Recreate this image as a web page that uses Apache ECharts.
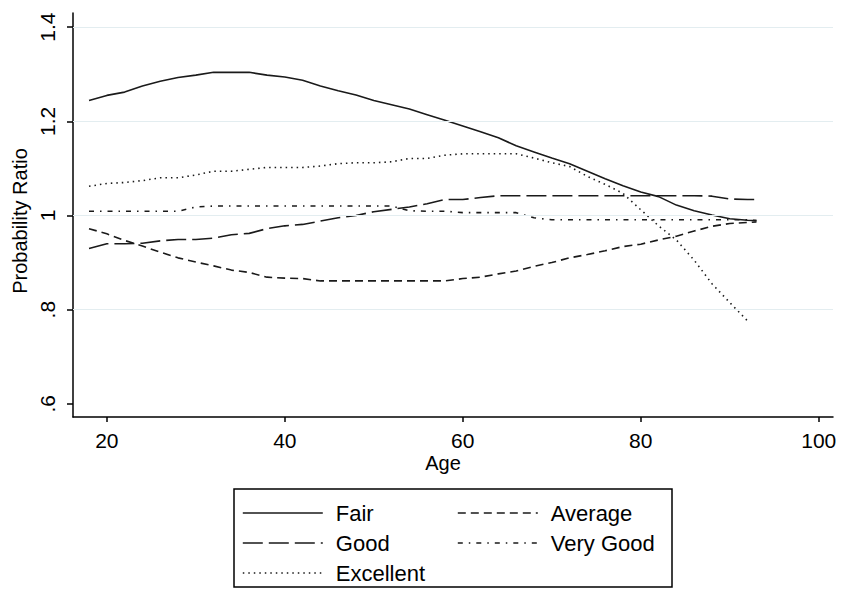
<!DOCTYPE html>
<html><head><meta charset="utf-8">
<script src="https://cdn.jsdelivr.net/npm/echarts@6/dist/echarts.min.js"></script>
<style>html,body{margin:0;padding:0;background:#fff}#c{width:842px;height:592px}</style>
</head><body><div id="c"></div>
<script>
// ---- data ----
const ages = [18,20,22,24,26,28,30,32,34,36,38,40,42,44,46,48,50,52,54,56,58,60,62,64,66,68,70,72,74,76,78,80,82,84,86,88,90,92,93];
const fair = [1.244,1.255,1.262,1.275,1.285,1.293,1.298,1.304,1.304,1.304,1.298,1.294,1.287,1.275,1.265,1.256,1.244,1.235,1.226,1.214,1.202,1.190,1.178,1.165,1.148,1.135,1.122,1.110,1.094,1.078,1.063,1.050,1.040,1.022,1.010,1.001,0.993,0.990,0.989];
const average = [0.972,0.961,0.947,0.935,0.922,0.910,0.901,0.893,0.884,0.879,0.869,0.867,0.866,0.861,0.861,0.861,0.861,0.861,0.861,0.861,0.861,0.866,0.869,0.876,0.882,0.892,0.900,0.910,0.917,0.925,0.934,0.939,0.948,0.956,0.967,0.977,0.983,0.985,0.986];
const good = [0.930,0.940,0.940,0.941,0.946,0.949,0.949,0.952,0.959,0.962,0.972,0.978,0.981,0.988,0.995,1.000,1.008,1.013,1.018,1.025,1.034,1.034,1.038,1.042,1.042,1.042,1.042,1.042,1.042,1.042,1.042,1.042,1.042,1.042,1.042,1.041,1.035,1.034,1.034];
const veryGood = [1.009,1.009,1.009,1.009,1.009,1.009,1.018,1.020,1.020,1.020,1.020,1.020,1.020,1.020,1.020,1.020,1.020,1.020,1.010,1.009,1.009,1.006,1.006,1.006,1.006,0.995,0.991,0.991,0.991,0.991,0.991,0.991,0.991,0.991,0.991,0.991,0.991,0.991,0.989];
const excellent = [1.062,1.068,1.070,1.074,1.080,1.080,1.086,1.094,1.094,1.098,1.102,1.102,1.102,1.105,1.110,1.112,1.112,1.114,1.121,1.121,1.128,1.131,1.131,1.131,1.131,1.122,1.112,1.104,1.083,1.066,1.047,1.012,0.978,0.948,0.905,0.855,0.815,0.776,null];
const seriesNames = ['Fair','Average','Good','Very Good','Excellent'];
const xTicks = [20,40,60,80,100];
const xTickLabels = ['20','40','60','80','100'];
const yTicks = [0.6,0.8,1.0,1.2,1.4];
const yTickLabels = ['.6','.8','1','1.2','1.4'];
const yGrid = [0.8,1.0,1.2,1.4];

// ---- chart ----
const FONT = '"Liberation Sans", Arial, sans-serif';
const INK = '#1a1a1a';
const seriesValues = [fair, average, good, veryGood, excellent];
const dashes = ['solid', [8,5], [20,6], [5,6,1.5,6], [1.5,4]];
function lookup(ticks, labels, v){
  for (let i=0;i<ticks.length;i++) if (Math.abs(ticks[i]-v)<1e-6) return labels[i];
  return '';
}
const chart = echarts.init(document.getElementById('c'), null, {renderer:'svg'});
const series = [{
  type:'line', name:'_grid', data:[], z:1, silent:true,
  markLine:{silent:true, symbol:'none', label:{show:false}, animation:false,
    lineStyle:{color:'#e3edf0', width:1.2, type:'solid'},
    data: yGrid.map(v=>({yAxis:v}))}
}];
seriesNames.forEach((n,i)=>{
  series.push({
    type:'line', name:n, z:3, showSymbol:false, symbol:'none', connectNulls:false,
    data: ages.map((a,j)=>[a, seriesValues[i][j]]),
    lineStyle:{color:INK, width:1.6, type:dashes[i]},
    itemStyle:{color:INK}
  });
});
const legendPos = [[242,513],[457,513],[242,543],[457,543],[242,573]];
const legends = seriesNames.map((n,i)=>({
  data:[n], left:legendPos[i][0], top:legendPos[i][1]-12, padding:0,
  itemWidth:80, itemHeight:14, selectedMode:false,
  itemStyle:{color:'rgba(0,0,0,0)', borderColor:'rgba(0,0,0,0)', borderWidth:0},
  lineStyle:{color:INK, width:1.6, type:dashes[i]},
  textStyle:{fontSize:22, fontFamily:FONT, color:'#000', lineHeight:24, padding:[0,0,0,8]}
}));
chart.setOption({
  animation:false,
  backgroundColor:'#fff',
  grid:{left:73, right:9, top:13, bottom:175},
  xAxis:{type:'value', min:16.2, max:101.6,
    axisLine:{lineStyle:{color:'#000', width:1.5}},
    axisTick:{customValues:xTicks, length:5, lineStyle:{color:'#000', width:1.5}},
    axisLabel:{customValues:xTicks, formatter:v=>lookup(xTicks,xTickLabels,v), fontSize:21, margin:13, color:'#000', fontFamily:FONT},
    splitLine:{show:false}},
  yAxis:{type:'value', min:0.572, max:1.43,
    axisLine:{show:true, lineStyle:{color:'#000', width:1.5}},
    axisTick:{show:true, customValues:yTicks, length:6, lineStyle:{color:'#000', width:1.5}},
    axisLabel:{customValues:yTicks, formatter:v=>lookup(yTicks,yTickLabels,v), rotate:90, fontSize:21, margin:15, color:'#000', fontFamily:FONT},
    splitLine:{show:false}},
  legend: legends,
  series: series,
  graphic:[
    {type:'rect', shape:{x:234, y:489, width:438, height:98}, style:{fill:'none', stroke:'#000', lineWidth:1.5}, silent:true},
    {type:'text', x:443, y:463, style:{text:'Age', font:'20px '+FONT, fill:'#000', align:'center', verticalAlign:'middle', textAlign:'center', textVerticalAlign:'middle'}},
    {type:'text', x:20, y:221, rotation:Math.PI/2, style:{text:'Probability Ratio', font:'20px '+FONT, fill:'#000', align:'center', verticalAlign:'middle', textAlign:'center', textVerticalAlign:'middle'}}
  ]
});
</script></body></html>
